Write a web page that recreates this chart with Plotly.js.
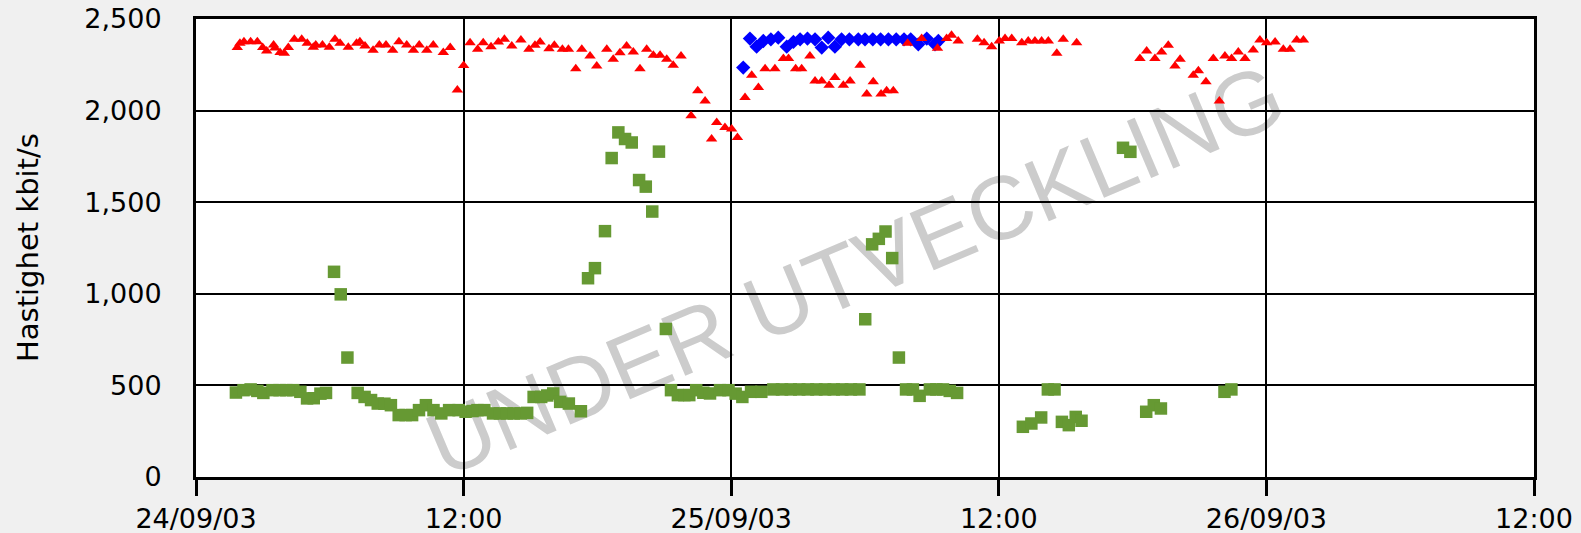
<!DOCTYPE html>
<html><head><meta charset="utf-8">
<script src="https://cdn.plot.ly/plotly-3.0.1.min.js"></script>
<style>html,body{margin:0;padding:0;background:#f0f0f0;}#chart{width:1581px;height:533px;}</style>
</head><body><div id="chart"></div>
<script>
// Hours after 24/09/03 00:00
const redHours = [1.85,1.97,2.15,2.45,2.75,2.99,3.17,3.48,3.54,3.77,3.96,4.14,4.41,4.74,4.99,5.26,5.37,5.67,5.98,6.23,6.46,6.83,7.2,7.35,7.58,7.94,8.22,8.52,8.82,9.1,9.45,9.75,10.01,10.35,10.64,11.09,11.4,11.72,12.0,12.29,12.63,12.88,13.23,13.56,13.83,14.16,14.57,14.93,15.2,15.43,15.83,16.07,16.43,16.7,17.03,17.3,17.67,17.97,18.42,18.71,19.01,19.31,19.61,19.91,20.21,20.51,20.81,21.11,21.4,21.75,22.2,22.5,22.83,23.12,23.35,23.72,24.02,24.28,24.62,24.92,25.22,25.52,25.96,26.34,26.57,26.89,27.16,27.53,27.76,28.06,28.39,28.65,29.03,29.33,29.78,30.08,30.37,30.72,30.97,31.27,31.91,32.54,33.25,33.66,33.88,34.18,35.04,35.34,35.68,36.02,36.28,36.58,37.03,37.32,37.62,37.92,38.22,38.6,38.89,39.49,42.33,42.63,43.0,43.3,43.6,43.9,44.13,44.72,44.95,45.29,45.62,45.89,46.14,46.44,46.74,47.04,47.41,47.71,48.01,48.39,48.76,49.06,49.36,49.66];
const redValues = [2344,2367,2376,2376,2376,2344,2326,2358,2342,2317,2313,2344,2389,2389,2367,2346,2358,2358,2346,2389,2367,2346,2367,2376,2353,2330,2358,2358,2330,2376,2358,2330,2358,2330,2358,2317,2344,2112,2246,2371,2335,2371,2349,2375,2389,2353,2386,2335,2357,2375,2338,2357,2335,2335,2229,2335,2298,2244,2335,2280,2316,2353,2320,2229,2335,2302,2302,2280,2248,2298,1972,2108,2053,1845,1935,1908,1899,1853,2071,2193,2126,2229,2229,2284,2284,2229,2229,2298,2162,2162,2139,2180,2139,2162,2248,2090,2157,2090,2108,2108,2367,2393,2340,2393,2411,2380,2389,2371,2349,2380,2393,2393,2371,2380,2380,2380,2380,2313,2389,2371,2284,2326,2284,2320,2357,2244,2280,2193,2217,2157,2284,2053,2298,2284,2320,2284,2331,2386,2371,2375,2335,2335,2386,2386];

const blueHours = [24.54,24.84,25.14,25.44,25.78,26.11,26.49,26.79,27.09,27.42,27.76,28.06,28.35,28.65,28.95,29.3,29.7,30.0,30.35,30.7,31.05,31.4,31.75,32.05,32.39,32.77,33.14,33.29];
const blueValues = [2235,2393,2349,2380,2389,2398,2349,2375,2389,2393,2389,2344,2398,2349,2389,2389,2389,2389,2389,2389,2389,2389,2389,2389,2362,2393,2362,2380];

const greenHours = [1.79,2.13,2.45,2.75,3.02,3.43,3.75,4.05,4.36,4.68,4.98,5.28,5.58,5.83,6.19,6.49,6.79,7.25,7.56,7.85,8.15,8.45,8.74,9.09,9.4,9.69,10.0,10.31,10.65,11.0,11.35,11.78,12.09,12.4,12.62,12.93,13.32,13.63,13.94,14.25,14.56,14.85,15.14,15.48,15.75,16.02,16.33,16.72,17.26,17.58,17.89,18.34,18.64,18.94,19.24,19.54,19.87,20.17,20.46,20.76,21.07,21.3,21.61,21.9,22.12,22.43,22.75,23.05,23.5,23.88,24.2,24.5,24.89,25.35,25.89,26.28,26.67,27.05,27.44,27.82,28.21,28.6,28.98,29.37,29.75,30.01,30.32,30.62,30.92,31.22,31.52,31.84,32.15,32.45,32.91,33.2,33.5,33.8,34.13,37.08,37.46,37.9,38.2,38.5,38.83,39.14,39.45,39.71,41.57,41.9,42.61,42.95,43.27,46.12,46.43];
const greenValues = [461,474,478,470,459,474,474,474,474,465,429,430,455,459,1120,997,652,459,437,420,401,400,392,338,338,338,365,392,365,347,365,365,356,360,365,365,347,347,347,347,347,350,437,437,445,456,410,401,359,1085,1140,1342,1741,1881,1845,1826,1621,1585,1449,1776,808,474,447,447,447,474,460,456,474,474,455,437,465,465,478,478,478,478,478,478,478,478,478,478,478,861,1270,1300,1340,1195,652,478,478,443,478,478,478,470,459,274,292,325,478,478,301,283,328,307,1797,1775,356,392,374,465,478];

const tickHours = [0,12,24,36,48,60];
const tickLabels = ['24/09/03','12:00','25/09/03','12:00','26/09/03','12:00'];
const yTicks = [0,500,1000,1500,2000,2500];

function hoursToDate(h){
  const t = Date.UTC(2003,8,24) + Math.round(h*3600000);
  return new Date(t).toISOString().slice(0,19).replace('T',' ');
}

const traces = [
  {x: greenHours.map(hoursToDate), y: greenValues, type:'scatter', mode:'markers',
   marker:{symbol:'square', size:12.5, color:'#669933', line:{width:0}}},
  {x: blueHours.map(hoursToDate), y: blueValues, type:'scatter', mode:'markers',
   marker:{symbol:'diamond', size:11, color:'#0000ff', line:{width:0}}},
  {x: redHours.map(hoursToDate), y: redValues, type:'scatter', mode:'markers',
   marker:{symbol:'triangle-up', size:10, color:'#ff0000', line:{width:0}}}
];

const tickFont = {family:'DejaVu Sans', size:27, color:'#000000'};

const layout = {
  width:1581, height:533,
  margin:{l:196, r:47, t:19, b:56, pad:0},
  paper_bgcolor:'#f0f0f0', plot_bgcolor:'#ffffff',
  showlegend:false,
  xaxis:{
    type:'date',
    range:[hoursToDate(tickHours[0]), hoursToDate(tickHours[tickHours.length-1])],
    tickmode:'array', tickvals: tickHours.map(hoursToDate), ticktext: tickLabels,
    showgrid:true, gridcolor:'#000000', gridwidth:2,
    showline:true, linecolor:'#000000', linewidth:3, mirror:true,
    ticks:'outside', ticklen:16, tickwidth:3, tickcolor:'#000000',
    tickfont:{family:'DejaVu Sans', size:27, color:'#000000'},
    ticklabelstandoff:0,
    zeroline:false, fixedrange:true
  },
  yaxis:{
    range:[0,2500], tickmode:'array', tickvals:yTicks, tickformat:',',
    showgrid:true, gridcolor:'#000000', gridwidth:2,
    showline:true, linecolor:'#000000', linewidth:3, mirror:true,
    ticks:'', tickfont:tickFont, ticklabelstandoff:26,
    zeroline:false, fixedrange:true
  },
  shapes:[{
    type:'rect', xref:'paper', yref:'paper', x0:0.19, x1:0.79, y0:0.17, y1:0.77,
    layer:'below', line:{width:0}, fillcolor:'rgba(0,0,0,0)',
    label:{text:'UNDER UTVECKLING', textangle:-23, textposition:'middle center',
      font:{family:'Liberation Sans', size:90, color:'#cccccc'}}
  }],
  annotations:[{
    text:'Hastighet kbit/s', xref:'paper', yref:'paper',
    x:(28-196)/1338, y:0.5, xanchor:'center', yanchor:'middle',
    textangle:-90, showarrow:false,
    font:{family:'DejaVu Sans', size:29, color:'#000000'}
  }]
};

Plotly.newPlot('chart', traces, layout, {staticPlot:true, displayModeBar:false});
</script>
</body></html>
